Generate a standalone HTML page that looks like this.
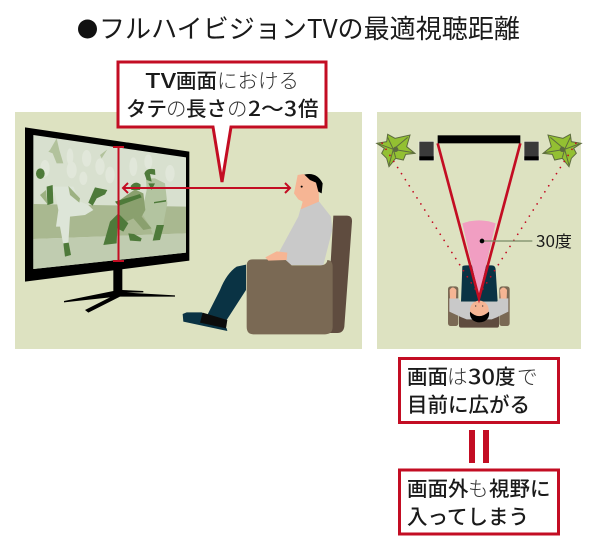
<!DOCTYPE html>
<html lang="ja"><head><meta charset="utf-8"><style>
html,body{margin:0;padding:0;background:#fff}
svg{display:block}
text{font-family:"Noto Sans CJK JP","Liberation Sans",sans-serif;fill:#1a1a1a}
.b{font-weight:500;font-size:20.500px}
.l{font-weight:300;fill:#333;font-size:20.500px}
</style></head><body>
<svg width="600" height="554" viewBox="0 0 600 554" xmlns="http://www.w3.org/2000/svg">
<rect x="15" y="112" width="347" height="237" fill="#dde2c1"/>
<rect x="377" y="112" width="204" height="237" fill="#dde2c1"/>
<circle cx="87.500" cy="29" r="9.500" fill="#111"/>
<text x="99" y="38" font-size="26" textLength="421" lengthAdjust="spacingAndGlyphs">フルハイビジョンTVの最適視聴距離</text>

<!-- TV -->
<g transform="translate(0,100) scale(.33333)">
<path d="M75 82L568 155V482L75 545Z" fill="#000"/>
<path d="M100 105L558 172V458L100 507Z" fill="#d8e0cf"/>
<path d="M100 312L558 320V400L100 417Z" fill="#a9b890"/>
<path d="M100 417L558 400V458L100 507Z" fill="#c0ccb0"/>
<g fill="#e6ebdf" opacity=".7">
<ellipse cx="210" cy="170" rx="10" ry="25"/><ellipse cx="260" cy="175" rx="14" ry="25"/><ellipse cx="215" cy="210" rx="15" ry="25"/><ellipse cx="300" cy="200" rx="14" ry="25"/><ellipse cx="330" cy="225" rx="14" ry="25"/><ellipse cx="400" cy="200" rx="12" ry="28"/><ellipse cx="510" cy="220" rx="14" ry="25"/><ellipse cx="250" cy="235" rx="12" ry="20"/><ellipse cx="135" cy="205" rx="14" ry="25"/><ellipse cx="445" cy="185" rx="12" ry="22"/>
</g>
</g>
<!-- pitcher -->
<g transform="translate(30,130) scale(.33333)">
<path d="M55 170L130 170L150 215L175 225L190 240L165 255L120 260L115 340L100 345L90 290L78 290L85 240L75 190Z" fill="#dde5d8"/>
<path d="M60 60L80 25L88 60L100 100L80 100L68 70L55 65Z" fill="#b2c29c"/>
<ellipse cx="31" cy="131" rx="13" ry="16" fill="#4e7a3a"/>
<path d="M50 170L68 165L70 220L52 225Z" fill="#4e7a3a"/>
<path d="M30 195L48 180L52 222Z" fill="#9db182"/>
<path d="M115 168L150 205L148 218L120 195Z" fill="#9db182"/>
<path d="M195 172L232 180L225 193L200 205L188 227L175 218Z" fill="#4e7a3a"/>
<path d="M100 340L116 338L123 375L105 380Z" fill="#4e7a3a"/>
<path d="M210 75L232 58L215 85Z" fill="#b2c29c"/>
</g>
<!-- catcher & batter -->
<g transform="translate(110,150) scale(.33333)">
<path d="M108 85L135 85L165 100L172 160L160 222L135 270L120 230L95 190L110 120Z" fill="#b3c4a0"/>
<path d="M103 70Q110 52 135 58L136 75L120 72L125 95L110 90Z" fill="#4e7a3a"/>
<path d="M140 225L162 225L150 270L128 272Z" fill="#4e7a3a"/>
<path d="M132 156L168 150V155L132 160Z" fill="#4e7a3a"/>
<path d="M30 150L75 118L100 130L106 180L95 200L125 235L100 240L70 205L50 215L25 190Z" fill="#8aa06e"/>
<path d="M62 108Q76 90 92 104L90 120L64 120Z" fill="#4e7a3a"/>
<path d="M15 155L90 132L95 142L25 168Z" fill="#4e7a3a"/>
<path d="M0 215L25 190L55 220L40 245L22 235L20 280L-20 285Z" fill="#4e7a3a"/>
<path d="M55 250L72 252L95 265L92 274L60 272Z" fill="#4e7a3a"/>
<path d="M115 100L135 100L125 120Z" fill="#4e7a3a"/>
</g>
<g transform="translate(0,100) scale(.33333)">
<path d="M340 505H367V570L430 573V577L380 578L525 586V590L360 590L265 638L255 630L330 592L192 607V603L340 573Z" fill="#000"/>
</g>

<!-- Person -->
<g transform="translate(170,150) scale(.33333)">
<path d="M490 197H530Q547 197 546 215L523 530Q520 550 500 549H470Z" fill="#5f4c3f"/>
<path d="M112 495L170 510L228 420V344L200 350Q170 370 150 420Z" fill="#0a3344"/>
<path d="M38 492L50 487H95L170 535L172 543L40 515Z" fill="#0a3344"/>
<path d="M98 488L172 510L168 535L90 518Z" fill="#0c0c0c"/>
<path d="M392 175L445 152L483 200L487 240L460 345H360L328 305L385 200Z" fill="#c9c9c9"/>
<path d="M383 75L400 72L445 90L447 155L392 178L398 155L385 148L372 130Z" fill="#f6b594"/>
<path d="M403 74Q440 65 458 100L455 130L445 125L438 98L420 90Z" fill="#000"/>
<circle cx="395" cy="110" r="3" fill="#000"/>
<path d="M248 328H345L365 346H450Q470 346 472 330H470Q488 330 488 350V530Q488 553 465 553H250Q230 553 230 530V348Q230 328 248 328Z" fill="#7a6954"/>
<path d="M286 322L320 304L352 308L350 330L295 332Z" fill="#f6b594"/>
</g>

<!-- Callout -->
<path d="M118 62H326V127H231L222 182L213 127H118Z" fill="#fff" stroke="#c30d23" stroke-width="3" stroke-linejoin="miter"/>
<text x="145" y="88" class="b" textLength="31" lengthAdjust="spacingAndGlyphs">TV</text>
<text x="176" y="88" class="b">画面</text>
<text x="217" y="88" class="l">における</text>
<text x="126" y="116" class="b">タテ</text>
<text x="166" y="116" class="l">の</text>
<text x="186" y="116" class="b">長さ</text>
<text x="227" y="116" class="l">の</text>
<text x="248" y="116" class="b" textLength="49" lengthAdjust="spacingAndGlyphs">2～3</text>
<text x="298" y="116" class="b">倍</text>

<!-- Red measure -->
<g stroke="#c30d23" fill="none">
<path d="M113 147H124M113 261H124M118.500 147V261" stroke-width="2"/>
<path d="M123 188H289" stroke-width="2"/>
<path d="M128 183L123 188L128 193M285 183L290 188L285 193" stroke-width="2"/>
</g>

<!-- Top view -->
<g transform="translate(375,110) scale(.33333)">
<rect x="132" y="94" width="45" height="58" fill="#3a3a3a" stroke="#eef0df" stroke-width="2"/><rect x="133" y="139" width="43" height="12" fill="#000"/>
<rect x="447" y="94" width="45" height="58" fill="#3a3a3a" stroke="#eef0df" stroke-width="2"/><rect x="448" y="139" width="43" height="12" fill="#000"/>
<g>
<path d="M5 100L35 95L38 73L60 85L105 75L95 110L120 130L92 133L85 150L62 145L42 170L35 145L20 130L28 115Z" fill="#93c032" stroke="#5d6b3f" stroke-width="3"/>
<path d="M38 82L55 118M98 82L55 118M115 128L55 118M62 143L55 118M42 165L55 118M12 102L55 118" stroke="#5d6b3f" stroke-width="3" fill="none"/>
<circle cx="62" cy="118" r="8" fill="#5d6b3f"/>
</g>
<g transform="translate(624,0) scale(-1,1)">
<path d="M5 100L35 95L38 73L60 85L105 75L95 110L120 130L92 133L85 150L62 145L42 170L35 145L20 130L28 115Z" fill="#93c032" stroke="#5d6b3f" stroke-width="3"/>
<path d="M38 82L55 118M98 82L55 118M115 128L55 118M62 143L55 118M42 165L55 118M12 102L55 118" stroke="#5d6b3f" stroke-width="3" fill="none"/>
<circle cx="62" cy="118" r="8" fill="#5d6b3f"/>
</g>
<rect x="252" y="610" width="120" height="43" rx="6" fill="#5f4c3f"/>
<rect x="219" y="529" width="31" height="119" rx="8" fill="#7a6954"/>
<rect x="373" y="529" width="31" height="119" rx="8" fill="#7a6954"/>
<path d="M262 470Q262 466 275 466H350Q362 466 362 480L368 575H258Z" fill="#0a3344"/>
<path d="M223 565L250 565L258 575H366L374 565L400 565L400 605L365 622L350 628H275L260 622L223 605Z" fill="#c9c9c9"/>
<path d="M224 540Q233 525 244 540L243 566L225 566Z" fill="#f6b594"/>
<path d="M375 540Q385 525 396 540L395 566L377 566Z" fill="#f6b594"/>
<circle cx="313" cy="600" r="28" fill="#f6b594"/>
<path d="M285 605Q312 632 342 605Q345 625 328 634Q308 642 293 630Q283 620 285 605Z" fill="#000"/>
<circle cx="302" cy="588" r="2" fill="#333"/><circle cx="323" cy="588" r="2" fill="#333"/>
<path d="M262 340Q312 322 362 340L312 560Z" fill="#f19ec2"/>
<g stroke="#c30d23" stroke-width="5" stroke-dasharray="0.1 21.500" stroke-linecap="round" fill="none">
<path d="M312 555L12 85"/>
<path d="M312 555L612 85"/>
</g>
<path d="M188 100L312 565L436 100" stroke="#c30d23" stroke-width="8" fill="none"/>
<rect x="188" y="76" width="248" height="24" fill="#000"/>
<path d="M322 393H472" stroke="#7a8a66" stroke-width="4"/>
<circle cx="321" cy="393" r="7" fill="#000"/>
</g>
<text x="536" y="247" font-size="16" textLength="36" lengthAdjust="spacingAndGlyphs">30度</text>

<!-- Red boxes -->
<rect x="399.500" y="358.500" width="159" height="64" fill="#fff" stroke="#c30d23" stroke-width="3"/>
<rect x="399.500" y="470" width="159" height="64" fill="#fff" stroke="#c30d23" stroke-width="3"/>
<rect x="469" y="430" width="6" height="33" fill="#c30d23"/>
<rect x="483" y="430" width="6" height="33" fill="#c30d23"/>
<text x="407" y="384" class="b">画面</text>
<text x="447" y="384" class="l">は</text>
<text x="468" y="384" class="b" textLength="27" lengthAdjust="spacingAndGlyphs">30</text>
<text x="495" y="384" class="b">度</text>
<text x="517" y="384" class="l">で</text>
<text x="407" y="412" class="b">目前に広がる</text>
<text x="407" y="496" class="b">画面外</text>
<text x="468" y="496" class="l">も</text>
<text x="489" y="496" class="b">視野に</text>
<text x="407" y="524" class="b">入ってしまう</text>
</svg>
</body></html>
